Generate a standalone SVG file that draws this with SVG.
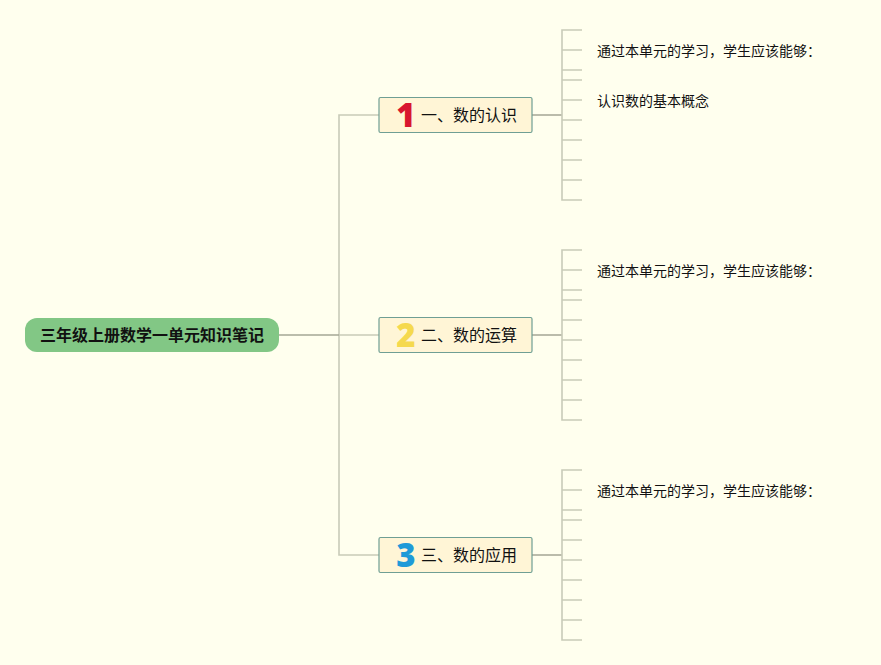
<svg xmlns="http://www.w3.org/2000/svg" width="881" height="665" viewBox="0 0 881 665">
<style>
text{font-family:"Noto Sans CJK SC","Liberation Sans",sans-serif;fill:#111}
.root{font-size:16px;font-weight:700}
.topic{font-size:16px}
.leaf{font-size:14px}
.num{font-family:"Open Sans","Noto Sans",sans-serif;font-size:33px;font-weight:800;text-anchor:middle}
.box{fill:#fff5d6;stroke:#6f9f94;stroke-width:1.2}
.c{fill:none;stroke:#c9cbb8;stroke-width:1.6}
.d{fill:none;stroke:#a5a795;stroke-width:1.6}
</style>
<rect width="881" height="665" fill="#ffffee"/>
<g id="connectors">
<path class="c" d="M379 115H339V555H379M339 335H379"/>
<path class="d" d="M278 335H339"/>
<path class="d" d="M532 115H562M532 335H562M532 555H562"/>
<g id="b1"><path class="c" d="M582 30H562V200H582M562 50H582M562 70H582M562 80H582M562 100H582M562 120H582M562 140H582M562 160H582M562 180H582"/></g>
<g id="b2"><path class="c" d="M582 250H562V420H582M562 270H582M562 290H582M562 300H582M562 320H582M562 340H582M562 360H582M562 380H582M562 400H582"/></g>
<g id="b3"><path class="c" d="M582 470H562V640H582M562 490H582M562 510H582M562 520H582M562 540H582M562 560H582M562 580H582M562 600H582M562 620H582"/></g>
</g>
<g id="root"><rect x="25" y="318" width="254" height="34" rx="12" fill="#82c785"/><text class="root" x="40" y="341">三年级上册数学一单元知识笔记</text></g>
<g id="topic1"><rect class="box" x="379" y="97.500" width="153" height="35" rx="1.500"/><text class="num" x="406" y="127" style="fill:#d8152f">1</text><text class="topic" x="421" y="121">一、数的认识</text></g>
<g id="topic2"><rect class="box" x="379" y="317.500" width="153" height="35" rx="1.500"/><text class="num" x="406" y="347" style="fill:#f5d94e">2</text><text class="topic" x="421" y="341">二、数的运算</text></g>
<g id="topic3"><rect class="box" x="379" y="537.500" width="153" height="35" rx="1.500"/><text class="num" x="406" y="567" style="fill:#1f9ad8">3</text><text class="topic" x="421" y="561">三、数的应用</text></g>
<g id="leaf1"><text class="leaf" x="597" y="56">通过本单元的学习，学生应该能够：</text></g>
<g id="leaf2"><text class="leaf" x="597" y="106">认识数的基本概念</text></g>
<g id="leaf3"><text class="leaf" x="597" y="276">通过本单元的学习，学生应该能够：</text></g>
<g id="leaf4"><text class="leaf" x="597" y="496">通过本单元的学习，学生应该能够：</text></g>
</svg>
